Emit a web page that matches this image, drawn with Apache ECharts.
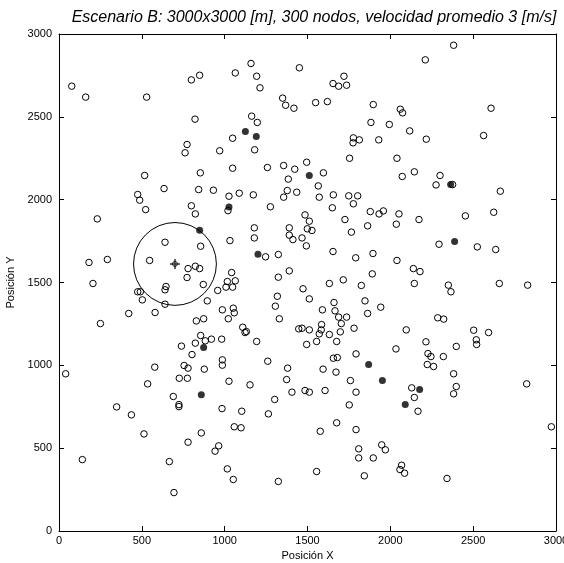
<!DOCTYPE html>
<html>
<head>
<meta charset="utf-8">
<script src="https://cdn.jsdelivr.net/npm/echarts@6/dist/echarts.min.js"></script>
<style>
  html, body { margin: 0; padding: 0; background: #fff; }
  #chart { width: 564px; height: 563px; }
</style>
</head>
<body>
<div id="chart"></div>
<script>
// Node positions [x, y] in metres
const nodesOpen = [
  [77,2685],[161,2619],[529,2619],[799,2723],[849,2751],[821,2486],[773,2333],[761,2283],[970,2295],[517,2146],
  [853,2162],[634,2067],[843,2061],[932,2057],[475,2031],
  [1159,2822],[1064,2765],[1193,2745],[1213,2675],[1451,2796],[1720,2745],[1654,2701],[1688,2685],[1736,2691],[1350,2613],
  [1368,2570],[1418,2552],[1549,2586],[1620,2592],[1897,2574],[1163,2504],[1197,2466],[1048,2371],[1181,2301],[1883,2466],
  [1777,2373],[1775,2343],[1813,2361],[1930,2361],[1754,2250],[1048,2190],[1258,2194],[1356,2206],[1423,2184],[1495,2226],
  [1596,2162],[1384,2124],[1565,2083],[1378,2055],[1435,2045],[1026,2021],[1088,2039],[1173,2029],[1356,2015],[1571,2015],
  [1656,2029],[1749,2023],[1803,2023],
  [2382,2932],[2211,2844],[2060,2546],[2074,2524],[2608,2552],[1994,2454],[2117,2415],[2217,2365],[2563,2387],[2040,2250],
  [2072,2140],[2145,2168],[2300,2146],[2276,2089],[2376,2091],[2664,2051],
  [487,1997],[523,1940],[231,1884],[799,1963],[823,1914],[640,1743],[855,1719],[181,1621],[292,1639],[547,1633],
  [779,1584],[823,1598],[849,1584],[773,1530],[205,1494],[871,1488],[646,1476],[640,1456],[475,1444],[491,1444],
  [503,1395],[640,1369],[958,1452],[895,1389],[986,1335],[421,1313],[580,1319],[250,1252],[829,1268],[873,1281],
  [855,1180],[823,1134],[883,1148],[920,1158],[982,1158],[739,1116],[803,1065],[986,1033],
  [1020,1934],[1276,1957],[1650,1951],[1777,1975],[1879,1928],[1932,1914],[1958,1932],[1485,1908],[1511,1870],[1726,1880],
  [1863,1842],[1179,1830],[1179,1769],[1390,1830],[1390,1786],[1412,1759],[1499,1824],[1527,1814],[1467,1769],[1493,1721],
  [1765,1804],[1032,1753],[1247,1655],[1324,1669],[1654,1687],[1791,1649],[1895,1675],[1891,1552],[1042,1560],[1016,1506],
  [1064,1510],[1008,1472],[1048,1472],[1324,1532],[1390,1570],[1632,1494],[1716,1516],[1825,1482],[1473,1462],[1511,1401],
  [1318,1417],[1306,1357],[1330,1281],[1660,1379],[1590,1335],[1666,1329],[1688,1291],[1736,1291],[1704,1252],[1847,1389],
  [1863,1313],[1942,1351],[1052,1345],[1058,1317],[1022,1281],[1109,1230],[1131,1204],[1123,1198],[1193,1144],[1447,1220],
  [1467,1224],[1511,1214],[1585,1246],[1583,1214],[1571,1190],[1632,1186],[1698,1202],[1781,1224],[1555,1144],[1676,1144],
  [1495,1126],[1260,1025],[1793,1069],[1656,1043],[1680,1047],
  [2052,1914],[2036,1852],[2173,1880],[2453,1902],[2624,1924],[2294,1731],[2525,1715],[2636,1699],[2040,1633],[2139,1584],
  [2179,1566],[2145,1494],[2350,1484],[2366,1444],[2658,1494],[2829,1484],[2286,1287],[2322,1279],[2096,1214],[2503,1212],
  [2593,1198],[2215,1142],[2519,1154],[2521,1126],[2034,1099],[2398,1114],[2227,1071],[2245,1053],[2320,1053],
  [40,949],[578,989],[755,999],[779,983],[877,977],[986,1001],[726,922],[775,922],[535,888],[690,812],
  [724,763],[724,751],[348,749],[437,701],[984,739],[513,586],[859,592],[779,536],[964,514],[942,482],
  [141,431],[666,419],[694,232],
  [1380,983],[1594,977],[1672,959],[1026,904],[1153,882],[1374,914],[1406,838],[1485,848],[1511,838],[1606,848],
  [1759,908],[1793,838],[1752,761],[1302,794],[1264,707],[1103,723],[1058,629],[1099,623],[1676,653],[1577,602],
  [1793,612],[1809,496],[1809,441],[1897,441],[1948,520],[1970,490],[1016,375],[1052,311],[1324,299],[1555,359],
  [1843,333],
  [2223,1005],[2261,993],[2382,949],[2823,888],[2129,864],[2398,872],[2382,828],[2145,806],[2167,723],[2972,629],
  [2068,397],[2058,371],[2086,349],[2342,317]
];

// Highlighted nodes (drawn filled)
const nodesFilled = [
  [1125,2411],[1191,2381],[1511,2146],[2364,2091],[849,1816],[873,1108],[1026,1955],[1201,1671],
  [2388,1747],[859,822],[1869,1005],[1952,908],[2177,854],[2090,763]
];

// Reference node and its coverage radius (m)
const centerNode = [700, 1612];
const coverageRadius = 250;

const axisTicks = [0, 500, 1000, 1500, 2000, 2500, 3000];

const titleText = 'Escenario B: 3000x3000 [m], 300 nodos, velocidad promedio 3 [m/s]';
const xLabel = 'Posición X';
const yLabel = 'Posición Y';

const font = 'Liberation Sans, Arial, sans-serif';
const chart = echarts.init(document.getElementById('chart'), null, { renderer: 'canvas' });

function plainNumber(v) { return String(v); }

function valueAxis(pos, showLabels, extra) {
  return Object.assign({
    type: 'value',
    position: pos,
    min: axisTicks[0],
    max: axisTicks[axisTicks.length - 1],
    interval: axisTicks[1] - axisTicks[0],
    axisLine: { show: true, onZero: false, lineStyle: { color: '#000', width: 1 } },
    axisTick: { show: true, inside: true, length: 5, lineStyle: { color: '#000', width: 1 } },
    axisLabel: { show: showLabels, color: '#000', fontSize: 11, fontFamily: font, formatter: plainNumber },
    splitLine: { show: false }
  }, extra || {});
}

chart.setOption({
  animation: false,
  backgroundColor: '#fff',
  title: {
    text: titleText,
    left: 309,
    top: 5,
    textAlign: 'center',
    textStyle: { fontStyle: 'italic', fontWeight: 'normal', fontSize: 16, fontFamily: font, color: '#000' }
  },
  grid: { left: 59, right: 8, top: 34, bottom: 32, containLabel: false, outerBoundsMode: 'none' },
  xAxis: [
    valueAxis('bottom', true, {
      name: xLabel, nameLocation: 'middle', nameGap: 19,
      nameTextStyle: { color: '#000', fontSize: 11, fontFamily: font },
      axisLabel: { show: true, color: '#000', fontSize: 11, fontFamily: font, margin: 4, formatter: plainNumber }
    }),
    valueAxis('top', false)
  ],
  yAxis: [
    valueAxis('left', true, {
      name: yLabel, nameLocation: 'middle', nameGap: 30, nameRotate: 90,
      nameTextStyle: { color: '#000', fontSize: 11, fontFamily: font },
      axisLabel: { show: true, color: '#000', fontSize: 11, fontFamily: font, margin: 7, formatter: plainNumber }
    }),
    valueAxis('right', false)
  ],
  series: [
    {
      type: 'custom',
      xAxisIndex: 0, yAxisIndex: 0,
      data: [[centerNode[0], centerNode[1], coverageRadius]],
      renderItem: function (params, api) {
        const c = api.coord([api.value(0), api.value(1)]);
        const r = api.size([api.value(2), 0])[0];
        return {
          type: 'circle',
          shape: { cx: c[0], cy: c[1], r: r },
          style: { fill: 'none', stroke: '#000', lineWidth: 1 }
        };
      },
      silent: true,
      z: 1
    },
    {
      type: 'scatter',
      data: nodesOpen,
      symbol: 'circle',
      symbolSize: 6.5,
      itemStyle: { color: 'rgba(0,0,0,0)', borderColor: '#000', borderWidth: 1, opacity: 1 },
      z: 2
    },
    {
      type: 'scatter',
      data: nodesFilled,
      symbol: 'circle',
      symbolSize: 7,
      itemStyle: { color: '#000', borderColor: '#000', borderWidth: 0 },
      z: 3
    },
    {
      type: 'scatter',
      data: [centerNode],
      symbol: 'circle',
      symbolSize: 5,
      itemStyle: { color: 'rgba(0,0,0,0)', borderColor: '#000', borderWidth: 1 },
      z: 3
    },
    {
      type: 'scatter',
      data: [centerNode],
      symbol: 'path://M0,5 L10,5 M5,0 L5,10',
      symbolSize: 10,
      itemStyle: { color: 'none', borderColor: '#000', borderWidth: 1.5 },
      z: 4
    }
  ]
});
</script>
</body>
</html>
